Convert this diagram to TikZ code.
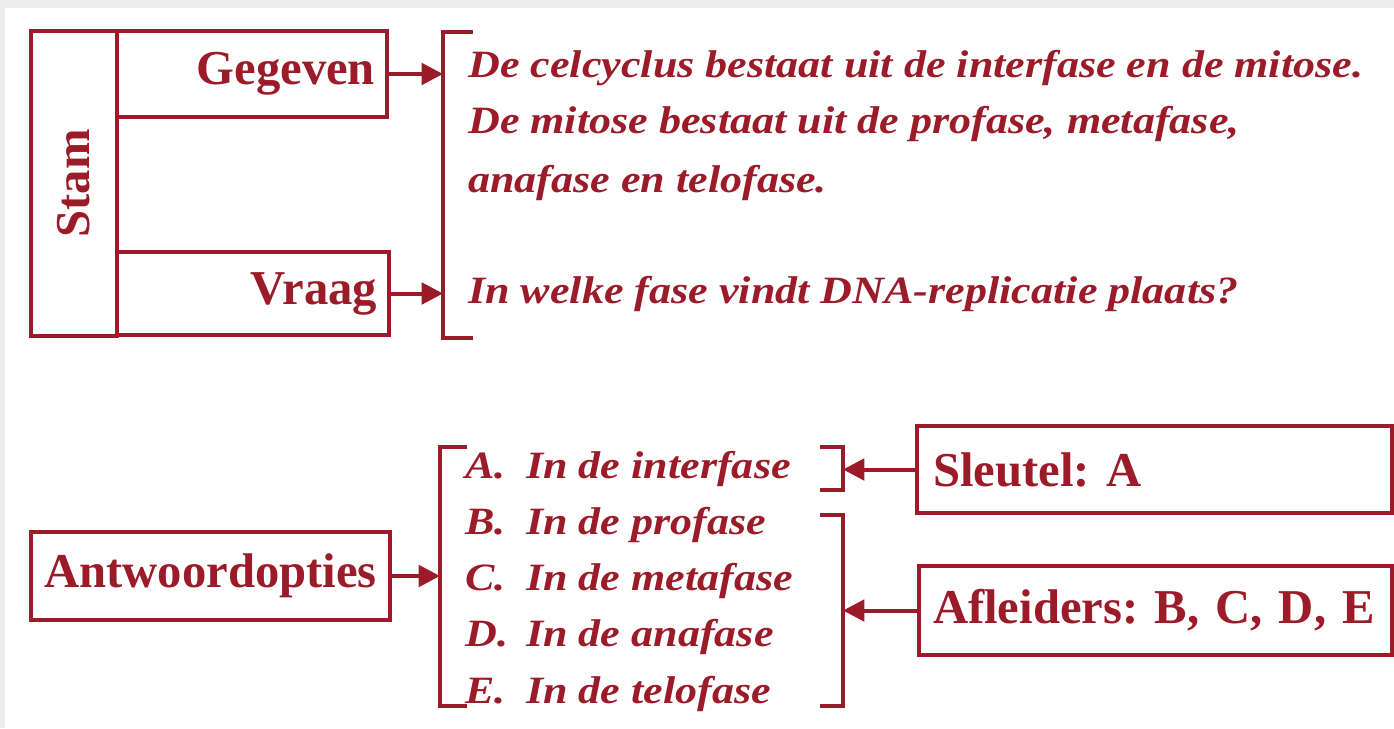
\documentclass[tikz,border=0pt]{standalone}
\usepackage{fontspec}
\setmainfont{Liberation Serif}
\newfontfamily\optfont[FakeStretch=1.14]{Liberation Serif}
\usetikzlibrary{arrows.meta}
\definecolor{stamred}{RGB}{155,27,41}
\frenchspacing
\tikzset{>={Triangle[length=16pt,width=16pt]}}
\tikzset{
  box/.style={draw=stamred,line width=3pt,text=stamred,inner sep=0pt,
    font=\bfseries\fontsize{36.5}{40}\selectfont},
  line/.style={text=stamred,inner sep=0pt,anchor=base west,
    font=\optfont\bfseries\itshape\fontsize{29}{34}\selectfont},
  brace/.style={draw=stamred,line width=3pt},
  link/.style={->,draw=stamred,line width=3pt},
}

\begin{document}
\begin{tikzpicture}[x=0.75pt,y=-0.75pt]
      \fill[black!7] (0,0) rectangle (1394,728);
      \fill[white] (5,8) rectangle (1394,728);
      \useasboundingbox (0,0) rectangle (1394,728);

      % stam
      \node[box,rotate=90,minimum width=228.75pt,minimum height=64.5pt](stam) at (74,183.5) {Stam};
      \node[box,minimum width=202.5pt,minimum height=64.5pt,text width=184.5pt,align=right](gegeven) at (252,74) {Gegeven};
      \node[box,minimum width=204pt,minimum height=62.25pt,text width=186pt,align=right](vraag) at (253,293.5) {Vraag};

      \coordinate (topbr) at (443,32);
      \draw[brace] (473,32) -- (topbr) -- (443,338) -- (473,338);
      \draw[link] (gegeven.east) -- (gegeven.east -| topbr);
      \draw[link] (vraag.east) -- (vraag.east -| topbr);

      \node[line](g1) at (468,77) {De celcyclus bestaat uit de interfase en de mitose.};
      \node[line](g2) at (468,133) {De mitose bestaat uit de profase, metafase,};
      \node[line](g3) at (468,192) {anafase en telofase.};
      \node[line](q1) at (468,303) {In welke fase vindt DNA-replicatie plaats?};

      % antwoordopties
      \node[box,minimum width=269.25pt,minimum height=66pt](antw) at (210.5,576) {Antwoordopties};
      \coordinate (ansbr) at (440,447);
      \draw[brace] (467,447) -- (ansbr) -- (440,706) -- (467,706);
      \draw[link] (antw.east) -- (antw.east -| ansbr);

      \foreach \l/\t [count=\i] in {A/interfase, B/profase, C/metafase, D/anafase, E/telofase} {
        \node[line](opt\l) at (465, {478 + 56.3*(\i-1)}) {\makebox[45.75pt][l]{\l.}In de \t};
      }

      % sleutel en afleiders
      \node[box,minimum width=356.25pt,minimum height=65.25pt,text width=332.25pt,align=left](sleutel) at (1154.5,469.5) {\mbox{Sleutel: A}};
      \node[box,minimum width=354.75pt,minimum height=66.75pt,text width=333.75pt,align=left](afleiders) at (1155.5,610.5) {\mbox{Afleiders: B, C, D, E}};

      \coordinate (keybr) at (843,447);
      \draw[brace] (820,447) -- (keybr) -- (843,490) -- (820,490);
      \coordinate (disbr) at (843,515);
      \draw[brace] (820,515) -- (disbr) -- (843,706) -- (820,706);
      \draw[link] (sleutel.west) -- (sleutel.west -| keybr);
      \draw[link] (afleiders.west) -- (afleiders.west -| disbr);
    \end{tikzpicture}
\end{document}
